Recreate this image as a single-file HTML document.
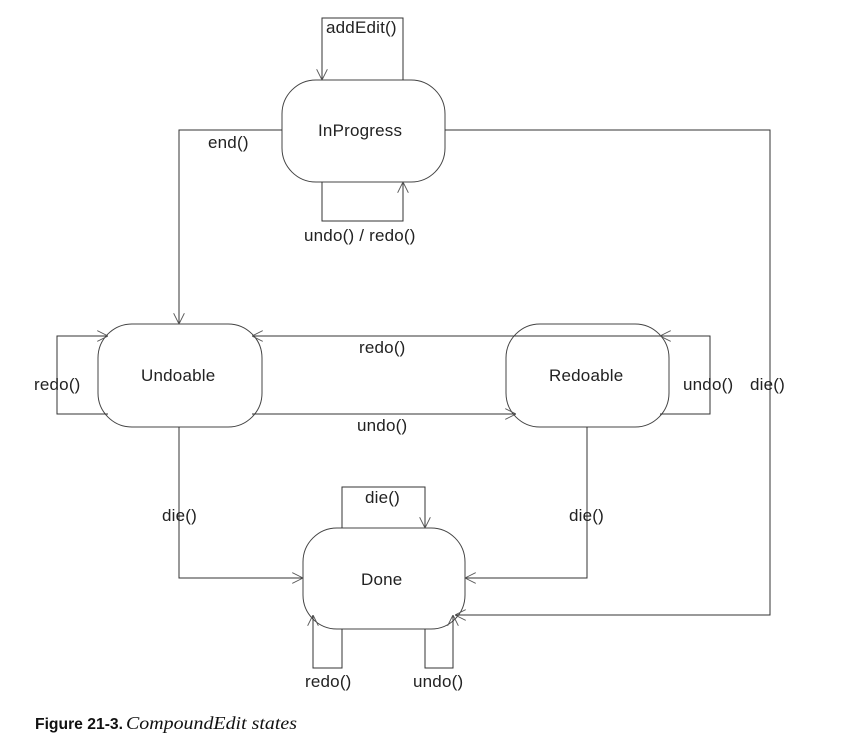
<!DOCTYPE html>
<html><head><meta charset="utf-8"><style>
html,body{margin:0;padding:0;background:#fff;width:842px;height:749px;overflow:hidden}
svg{display:block}
text{font-family:"Liberation Sans",Arial,sans-serif;font-size:17px;fill:#222;letter-spacing:0.2px}
</style></head><body>
<svg width="842" height="749" viewBox="0 0 842 749" xmlns="http://www.w3.org/2000/svg">
<defs>
<marker id="a" viewBox="0 0 12 12" refX="12" refY="6" markerWidth="11" markerHeight="11" markerUnits="userSpaceOnUse" orient="auto">
<path d="M0,0 L12,6 L0,12" fill="none" stroke="#555" stroke-width="1"/>
</marker>
</defs>
<g fill="#fff" stroke="#444" stroke-width="1">
<rect x="282" y="80" width="163" height="102" rx="34" ry="34"/>
<rect x="98" y="324" width="164" height="103" rx="34" ry="34"/>
<rect x="506" y="324" width="163" height="103" rx="34" ry="34"/>
<rect x="303" y="528" width="162" height="101" rx="34" ry="34"/>
</g>
<g fill="none" stroke="#333" stroke-width="1">
<polyline points="403,80 403,18 322,18 322,80" marker-end="url(#a)"/>
<polyline points="322,182 322,221 403,221 403,182" marker-end="url(#a)"/>
<polyline points="282,130 179,130 179,324" marker-end="url(#a)"/>
<polyline points="108,414 57,414 57,336 108,336" marker-end="url(#a)"/>
<polyline points="660,336 252,336" marker-end="url(#a)"/>
<polyline points="252,414 516,414" marker-end="url(#a)"/>
<polyline points="660,414 710,414 710,336 660,336" marker-end="url(#a)"/>
<polyline points="445,130 770,130 770,615 455,615" marker-end="url(#a)"/>
<polyline points="179,427 179,578 303,578" marker-end="url(#a)"/>
<polyline points="587,427 587,578 465,578" marker-end="url(#a)"/>
<polyline points="342,528 342,487 425,487 425,528" marker-end="url(#a)"/>
<polyline points="342,629 342,668 313,668 313,615" marker-end="url(#a)"/>
<polyline points="425,629 425,668 453,668 453,615" marker-end="url(#a)"/>
</g>
<text x="326" y="33">addEdit()</text>
<text x="318" y="136">InProgress</text>
<text x="208" y="148">end()</text>
<text x="304" y="241">undo() / redo()</text>
<text x="141" y="381">Undoable</text>
<text x="34" y="390">redo()</text>
<text x="359" y="353">redo()</text>
<text x="357" y="431">undo()</text>
<text x="549" y="381">Redoable</text>
<text x="683" y="390">undo()</text>
<text x="750" y="390">die()</text>
<text x="162" y="521">die()</text>
<text x="365" y="503">die()</text>
<text x="569" y="521">die()</text>
<text x="361" y="585">Done</text>
<text x="305" y="687">redo()</text>
<text x="413" y="687">undo()</text>
<text x="35" y="729" textLength="88" lengthAdjust="spacingAndGlyphs" style="font-weight:bold;font-size:16px;fill:#111;letter-spacing:0">Figure 21-3.</text>
<text x="126" y="729" textLength="171" lengthAdjust="spacingAndGlyphs" style="font-family:'Liberation Serif',serif;font-style:italic;font-size:18px;fill:#111;letter-spacing:0">CompoundEdit states</text>
</svg>
</body></html>
